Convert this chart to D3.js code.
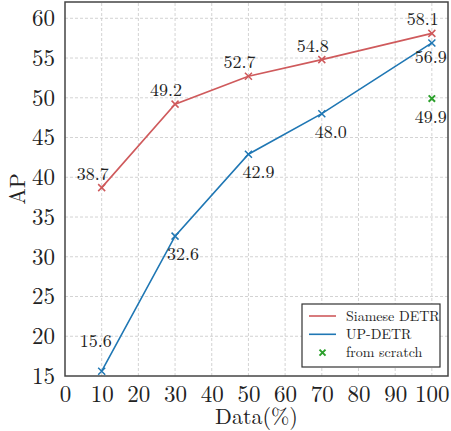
<!DOCTYPE html>
<html>
<head>
<meta charset="utf-8">
<script src="https://cdn.jsdelivr.net/npm/d3@7"></script>
<style>
    body { margin: 0; background: #fff; }
</style>
</head>
<body>
<div id="chart"></div>
<script>
// Data
const dataPct = [10, 30, 50, 70, 100];
const siameseAP = [38.7, 49.2, 52.7, 54.8, 58.1];
const upDetrAP = [15.6, 32.6, 42.9, 48.0, 56.9];
const scratchPct = [100];
const scratchAP = [49.9];
const xTicks = [0, 10, 20, 30, 40, 50, 60, 70, 80, 90, 100];
const yTicks = [15, 20, 25, 30, 35, 40, 45, 50, 55, 60];
const legendNames = ["Siamese DETR", "UP-DETR", "from scratch"];

// label offsets (dx, dy) relative to each point
const siameseOffsets = [[-9, -8], [-9, -8], [-9, -8], [-9, -8], [-9, -8]];
const upDetrOffsets = [[-6, -24], [8, 24], [10, 24], [9, 24], [-1, 20]];
const scratchOffsets = [[-1, 24]];

const FONT = '"Latin Modern Roman", "Liberation Serif", serif';
const width = 451, height = 431;
const margin = {top: 2, right: 3, bottom: 55, left: 65};

const red = "#cf5a5c", blue = "#1f77b4", green = "#2ca02c";

const svg = d3.select("#chart")
    .append("svg")
        .attr("width", width)
        .attr("height", height);

const x = d3.scaleLinear()
    .domain([0, 104.4])
    .range([margin.left, width - margin.right]);
const y = d3.scaleLinear()
    .domain([15, 62.05])
    .range([height - margin.bottom, margin.top]);

// Grid
const grid = svg.append("g")
    .attr("stroke", "#c8c8c8")
    .attr("stroke-width", 0.8)
    .attr("stroke-dasharray", "3,2");
grid.selectAll(".gx").data(xTicks.slice(1)).enter()
    .append("line")
        .attr("x1", d => x(d)).attr("x2", d => x(d))
        .attr("y1", y.range()[0]).attr("y2", y.range()[1]);
grid.selectAll(".gy").data(yTicks.slice(1)).enter()
    .append("line")
        .attr("x1", x.range()[0]).attr("x2", x.range()[1])
        .attr("y1", d => y(d)).attr("y2", d => y(d));

// Axes (labels only, no tick marks)
const xAxis = svg.append("g")
    .attr("transform", `translate(0,${y.range()[0]})`)
    .call(d3.axisBottom(x).tickValues(xTicks).tickSize(0).tickPadding(10));
const yAxis = svg.append("g")
    .attr("transform", `translate(${x.range()[0]},0)`)
    .call(d3.axisLeft(y).tickValues(yTicks).tickSize(0).tickPadding(10));
[xAxis, yAxis].forEach(a => {
    a.attr("font-family", null).attr("font-size", null);
    a.select(".domain").remove();
    a.selectAll("text")
        .style("font-family", FONT)
        .style("font-size", "23px")
        .attr("fill", "#222");
});
xAxis.selectAll("text").attr("dy", "0.71em");

// Frame
svg.append("rect")
    .attr("x", x.range()[0]).attr("y", y.range()[1])
    .attr("width", x.range()[1] - x.range()[0])
    .attr("height", y.range()[0] - y.range()[1])
    .attr("fill", "none")
    .attr("stroke", "#444")
    .attr("stroke-width", 1.5);

// Axis titles
svg.append("text")
    .attr("x", (x.range()[0] + x.range()[1]) / 2)
    .attr("y", 424)
    .attr("text-anchor", "middle")
    .style("font-family", FONT)
    .style("font-size", "22px")
    .attr("fill", "#222")
    .text("Data(%)");
svg.append("text")
    .attr("transform", `translate(25,${(y.range()[0] + y.range()[1]) / 2}) rotate(-90)`)
    .attr("text-anchor", "middle")
    .style("font-family", FONT)
    .style("font-size", "22px")
    .attr("fill", "#222")
    .text("AP");

const line = d3.line()
    .x(d => x(d.x))
    .y(d => y(d.y));

function crossPath(cx, cy, r) {
    return `M${cx - r},${cy - r}L${cx + r},${cy + r}M${cx - r},${cy + r}L${cx + r},${cy - r}`;
}

function drawSeries(xs, ys, color, offsets, withLine, markerR, markerW) {
    const pts = xs.map((d, i) => ({x: d, y: ys[i], off: offsets[i]}));
    const g = svg.append("g");
    if (withLine) {
        g.append("path")
            .datum(pts)
            .attr("d", line)
            .attr("fill", "none")
            .attr("stroke", color)
            .attr("stroke-width", 1.6);
    }
    g.selectAll("path.mk").data(pts).enter()
        .append("path")
            .attr("class", "mk")
            .attr("d", d => crossPath(x(d.x), y(d.y), markerR))
            .attr("stroke", color)
            .attr("stroke-width", markerW)
            .attr("fill", "none");
    g.selectAll("text").data(pts).enter()
        .append("text")
            .attr("x", d => x(d.x) + d.off[0])
            .attr("y", d => y(d.y) + d.off[1])
            .attr("text-anchor", "middle")
            .style("font-family", FONT)
            .style("font-size", "18px")
            .attr("fill", "#222")
            .text(d => d.y.toFixed(1));
}

drawSeries(dataPct, siameseAP, red, siameseOffsets, true, 3.5, 1.5);
drawSeries(dataPct, upDetrAP, blue, upDetrOffsets, true, 3.5, 1.5);
drawSeries(scratchPct, scratchAP, green, scratchOffsets, false, 3.2, 2);

// Legend
const legend = svg.append("g");
legend.append("rect")
    .attr("x", 302).attr("y", 304)
    .attr("width", 138).attr("height", 63)
    .attr("fill", "#fff")
    .attr("stroke", "#333")
    .attr("stroke-width", 1.2);
const legendColors = [red, blue, green];
legendNames.forEach((name, i) => {
    const ly = 316 + i * 18.3;
    if (i < 2) {
        legend.append("line")
            .attr("x1", 309).attr("x2", 336)
            .attr("y1", ly).attr("y2", ly)
            .attr("stroke", legendColors[i])
            .attr("stroke-width", 1.6);
    } else {
        legend.append("path")
            .attr("d", crossPath(322.5, ly, 3))
            .attr("stroke", legendColors[i])
            .attr("stroke-width", 2);
    }
    legend.append("text")
        .attr("x", 346).attr("y", ly + 4.5)
        .style("font-family", FONT)
        .style("font-size", "14px")
        .attr("fill", "#222")
        .text(name);
});
</script>
</body>
</html>
